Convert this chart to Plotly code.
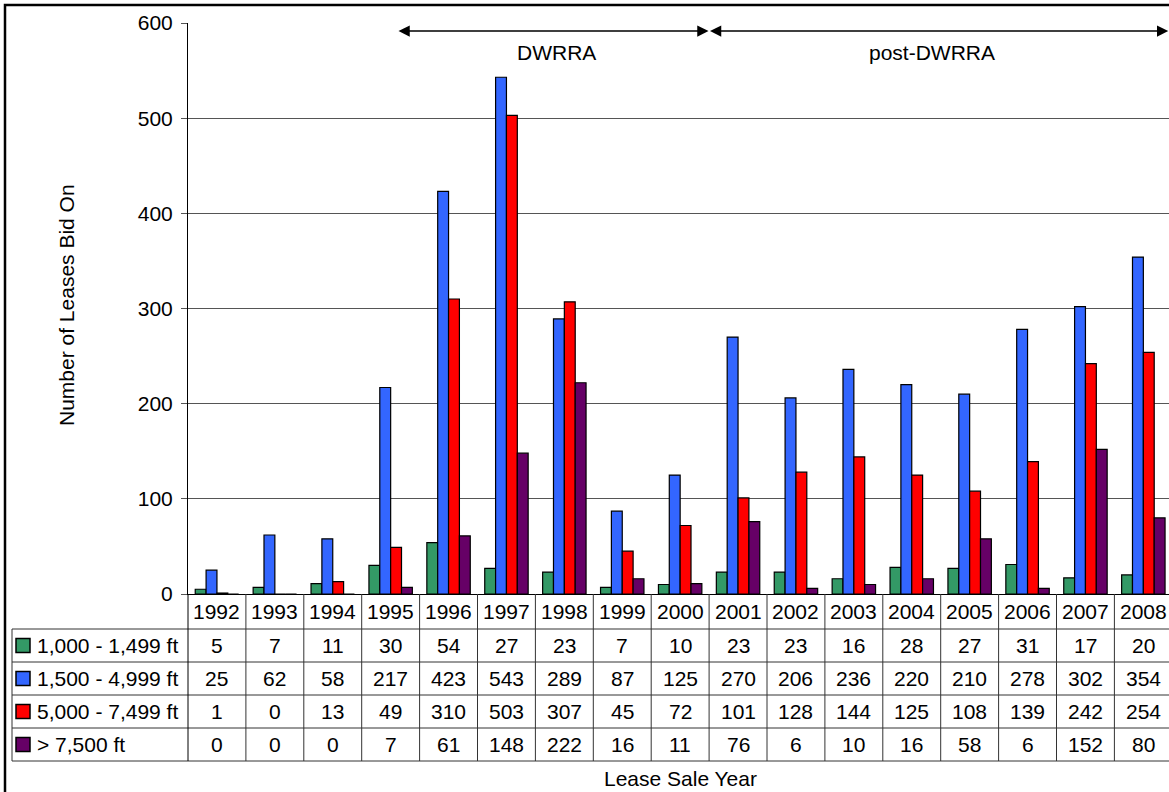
import plotly.graph_objects as go

# ---------------- data ----------------
years = list(range(1992, 2009))
series_names = ["1,000 - 1,499 ft", "1,500 - 4,999 ft", "5,000 - 7,499 ft", "> 7,500 ft"]
ft_1000_1499 = [5, 7, 11, 30, 54, 27, 23, 7, 10, 23, 23, 16, 28, 27, 31, 17, 20]
ft_1500_4999 = [25, 62, 58, 217, 423, 543, 289, 87, 125, 270, 206, 236, 220, 210, 278, 302, 354]
ft_5000_7499 = [1, 0, 13, 49, 310, 503, 307, 45, 72, 101, 128, 144, 125, 108, 139, 242, 254]
ft_over_7500 = [0, 0, 0, 7, 61, 148, 222, 16, 11, 76, 6, 10, 16, 58, 6, 152, 80]
series_values = [ft_1000_1499, ft_1500_4999, ft_5000_7499, ft_over_7500]
series_colors = ["#339966", "#3366FF", "#FF0000", "#660066"]
y_ticks = [0, 100, 200, 300, 400, 500, 600]
# policy periods: label, start year-position, end year-position, label position
periods = [("DWRRA", 1995.11, 2000.49, 1997.86),
           ("post-DWRRA", 2000.49, 2008.43, 2004.35)]
y_title = "Number of Leases Bid On"
x_title = "Lease Sale Year"

# ---------------- layout geometry (page pixels) ----------------
W, H = 1169, 792
PLOT_L, PLOT_R, PLOT_T, PLOT_B = 188, 1169, 23, 594
ML, MT = PLOT_L, PLOT_T
MR = W - PLOT_R
MB = H - PLOT_B
PW = PLOT_R - PLOT_L
PH = PLOT_B - PLOT_T
X_RANGE = [1991.5, 2008.443]
Y_RANGE = [0, 600]
FONT = "Arial, 'Liberation Sans', sans-serif"
FS = 21


def px2x(px):
    return (px - PLOT_L) / PW


def py2y(py):
    return (PLOT_B - py) / PH


def colx(k):
    return k / (X_RANGE[1] - X_RANGE[0])


def pyval(py):
    return (PLOT_B - py) / PH * (Y_RANGE[1] - Y_RANGE[0])


fig = go.Figure()
for name, vals, col in zip(series_names, series_values, series_colors):
    fig.add_trace(go.Bar(x=years, y=vals, name=name,
                         marker=dict(color=col, line=dict(color="black", width=1.2)),
                         showlegend=False))

shapes = []
annotations = []

header_top, header_bot = 594, 629
row_edges = [629, 662, 695, 728, 761]
table_left = 12
line_col = "#333333"

for py in row_edges:
    shapes.append(dict(type="line", xref="paper", yref="paper",
                       x0=px2x(table_left), x1=1.01, y0=py2y(py), y1=py2y(py),
                       line=dict(color=line_col, width=1)))
shapes.append(dict(type="line", xref="paper", yref="paper",
                   x0=px2x(table_left), x1=px2x(table_left),
                   y0=py2y(row_edges[0]), y1=py2y(row_edges[-1]),
                   line=dict(color=line_col, width=1)))
for k in range(len(years) + 1):
    shapes.append(dict(type="line", xref="paper", yref="paper",
                       x0=colx(k), x1=colx(k), y0=py2y(header_top), y1=py2y(row_edges[-1]),
                       line=dict(color="black" if k == 0 else line_col, width=1)))

for yr in years:
    annotations.append(dict(x=yr, y=py2y((header_top + header_bot) / 2), xref="x", yref="paper",
                            text=str(yr), showarrow=False, font=dict(size=FS, color="black", family=FONT),
                            xanchor="center", yanchor="middle"))
for r, (name, vals, col) in enumerate(zip(series_names, series_values, series_colors)):
    cy = (row_edges[r] + row_edges[r + 1]) / 2
    shapes.append(dict(type="rect", xref="paper", yref="paper",
                       x0=px2x(16), x1=px2x(30), y0=py2y(cy + 7), y1=py2y(cy - 7),
                       fillcolor=col, line=dict(color="black", width=1.5)))
    annotations.append(dict(x=px2x(35), y=py2y(cy), xref="paper", yref="paper",
                            text=name, showarrow=False, xanchor="left", yanchor="middle",
                            font=dict(size=FS, color="black", family=FONT)))
    for yr, v in zip(years, vals):
        annotations.append(dict(x=yr, y=py2y(cy), xref="x", yref="paper",
                                text=str(v), showarrow=False, xanchor="center", yanchor="middle",
                                font=dict(size=FS, color="black", family=FONT)))

annotations.append(dict(x=px2x(66), y=py2y(305), xref="paper", yref="paper",
                        text=y_title, textangle=-90, showarrow=False,
                        xanchor="center", yanchor="middle",
                        font=dict(size=FS, color="black", family=FONT)))
annotations.append(dict(x=px2x(680), y=py2y(778), xref="paper", yref="paper",
                        text=x_title, showarrow=False, xanchor="center", yanchor="middle",
                        font=dict(size=FS, color="black", family=FONT)))

arrow_y = pyval(31)
label_y = pyval(52)
for label, x0, x1, lx in periods:
    annotations.append(dict(x=x1, y=arrow_y, ax=x0, ay=arrow_y, xref="x", yref="y",
                            axref="x", ayref="y", text="", showarrow=True,
                            arrowhead=2, startarrowhead=2, arrowside="end+start",
                            arrowwidth=1.5, arrowsize=1.5, arrowcolor="black",
                            standoff=0, startstandoff=0))
    annotations.append(dict(x=lx, y=label_y, xref="x", yref="y", text=label, showarrow=False,
                            xanchor="center", yanchor="middle",
                            font=dict(size=FS, color="black", family=FONT)))

# outer frame
shapes.append(dict(type="rect", xref="paper", yref="paper",
                   x0=px2x(5), x1=px2x(1185), y0=py2y(810), y1=py2y(5),
                   line=dict(color="black", width=2.5), fillcolor="rgba(0,0,0,0)"))

fig.update_layout(
    width=W, height=H,
    margin=dict(l=ML, r=MR, t=MT, b=MB),
    paper_bgcolor="white", plot_bgcolor="white",
    barmode="group", bargap=0.25, bargroupgap=0,
    font=dict(family=FONT, size=FS, color="black"),
    xaxis=dict(range=X_RANGE, showticklabels=False, ticks="", showgrid=False,
               showline=True, linecolor="black", linewidth=1, zeroline=False, fixedrange=True),
    yaxis=dict(range=Y_RANGE, tickvals=y_ticks, showgrid=True, gridcolor="#555555", gridwidth=1,
               showline=True, linecolor="black", linewidth=1, ticks="outside", ticklen=6,
               tickcolor="#555555", zeroline=False, ticklabelstandoff=4,
               tickfont=dict(size=FS, family=FONT, color="black")),
    shapes=shapes, annotations=annotations,
)

fig.write_html("out.html", config={"displayModeBar": False},
               post_script="document.body.style.margin='0px';document.body.style.overflow='hidden';")
